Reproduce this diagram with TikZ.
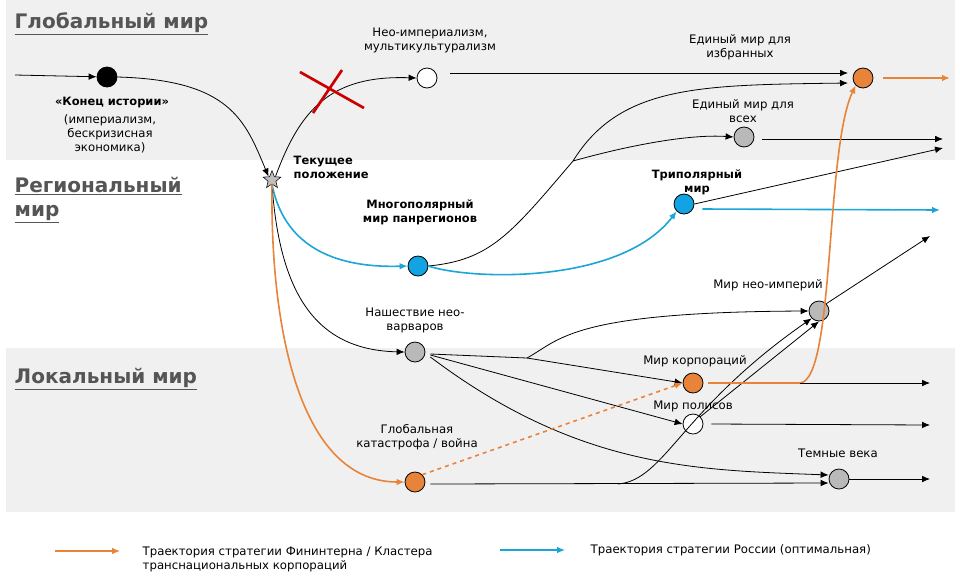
\documentclass[tikz,border=0pt]{standalone}
\usepackage{fontspec}
\setmainfont{DejaVu Sans}
\usetikzlibrary{arrows.meta,shapes.geometric}
\definecolor{org}{HTML}{E8833A}
\definecolor{cya}{HTML}{1BA6D6}
\definecolor{cyf}{HTML}{12A3E3}
\definecolor{bandc}{HTML}{F0F0F0}
\definecolor{headc}{HTML}{555555}
\begin{document}
\begin{tikzpicture}[x=0.75pt,y=-0.75pt,
  dot/.style={circle,draw=black,line width=0.6pt,minimum size=15pt,inner sep=0pt},
  lbl/.style={font=\fontsize{8.8}{10.5}\selectfont,align=center},
  blbl/.style={font=\fontsize{8.6}{10.5}\selectfont\bfseries,align=center},
  head/.style={font=\fontsize{15}{18}\selectfont\bfseries,text=headc,align=left,anchor=north west},
  arr/.style={-{Latex[length=6pt,width=5pt]},line width=0.6pt},
  oarr/.style={arr,draw=org,line width=1.2pt},
  carr/.style={arr,draw=cya,line width=1.2pt}]
\useasboundingbox (0,0) rectangle (960,583);
\fill[white] (0,0) rectangle (960,583);
\fill[bandc] (6,0) rectangle (955,160);
\fill[bandc] (6,348) rectangle (955,512);
\node[head] at (10,8) {\underline{Глобальный мир}};
\node[head] at (10,172) {\underline{Региональный}\\\underline{мир}};
\node[head] at (10,363) {\underline{Локальный мир}};
% nodes
\node[dot,fill=black] (B) at (107,77) {};
\node[star,star points=5,star point ratio=2.3,draw=black,fill=gray!50,minimum size=14pt,inner sep=0pt] (S) at (272,180) {};
\node[dot,fill=white] (N1) at (427,78) {};
\node[dot,fill=org] (E1) at (863,78) {};
\node[dot,fill=gray!55] (E2) at (744,137) {};
\node[dot,fill=cyf] (T) at (684,204) {};
\node[dot,fill=cyf] (M) at (418,266) {};
\node[dot,fill=gray!55] (H) at (415,352) {};
\node[dot,fill=org] (K) at (693,383) {};
\node[dot,fill=white] (P) at (693,424) {};
\node[dot,fill=org] (G) at (415,482) {};
\node[dot,fill=gray!55] (D) at (839,479) {};
\node[dot,fill=gray!55] (Ni) at (819,311) {};
% labels
\node[blbl] (lB) at (112,103) {«Конец истории»};
\node[lbl,anchor=north] (lB2) at (110,110) {(империализм,\\бескризисная\\экономика)};
\node[blbl,align=left,anchor=west] (lS) at (289,167) {Текущее\\положение};
\node[lbl] (lN1) at (430,40) {Нео-империализм,\\мультикультурализм};
\node[lbl] (lE1) at (740,47) {Единый  мир для\\избранных};
\node[lbl] (lE2) at (743,111) {Единый  мир для\\всех};
\node[blbl] (lT) at (697,182) {Триполярный\\мир};
\node[blbl] (lM) at (420,212) {Многополярный\\мир панрегионов};
\node[lbl] (lH) at (415,320) {Нашествие нео-\\варваров};
\node[lbl] (lK) at (695,361) {Мир корпораций};
\node[lbl] (lP) at (693,406) {Мир полисов};
\node[lbl] (lG) at (417,437) {Глобальная\\катастрофа / война};
\node[lbl] (lD) at (838,453) {Темные века};
\node[lbl] (lNi) at (768,285) {Мир нео-империй};
% coordinates
\coordinate (in0) at (15,75);
\coordinate (n1o) at (450,73);
\coordinate (e1a) at (848,73);
\coordinate (e1b) at (848,83);
\coordinate (j1) at (573,161);
\coordinate (j2) at (527,358);
\coordinate (j3) at (618,484);
\coordinate (j4) at (800,383);
\coordinate (oE1) at (950,78);
\coordinate (oE2) at (943,139);
\coordinate (oT) at (943,148);
\coordinate (oTc) at (940,210);
\coordinate (oNi) at (930,236);
\coordinate (oK) at (930,383);
\coordinate (oP) at (930,425);
\coordinate (oD) at (930,479);
% edges
\draw[arr] (in0) -- (B);
\draw[arr] (B.east) .. controls (230,80) and (245,120) .. (S.north west);
\draw[arr] (S.north east) .. controls (300,110) and (330,75) .. (N1.west);
\draw[draw=red!80!black,line width=2pt] (300,72) -- (364,108) (342,70) -- (313,113);
\draw[arr] (n1o) -- (e1a);
\draw[arr] (M.east) .. controls (490,260) and (510,235) .. (j1) .. controls (620,85) and (700,85) .. (e1b);
\draw[arr] (j1) .. controls (630,145) and (690,134) .. (E2.west);
\draw[arr] (E2.east) ++(8,2) -- (oE2);
\draw[arr] (T.east) -- (oT);
\draw[carr] (T.east) ++(8,5) -- (oTc);
\draw[carr] (S.south) .. controls (285,250) and (340,268) .. (M.west);
\draw[carr] (M.east) .. controls (470,280) and (620,285) .. (T.south west);
\draw[oarr] (E1.east) ++(10,0) -- (oE1);
\draw[arr] (S.south) .. controls (280,300) and (320,350) .. (H.west);
\draw[oarr] (S.south) .. controls (270,330) and (300,482) .. (G.west);
\draw[line width=0.6pt] (H.east) ++(5,2) -- (j2);
\draw[arr] (j2) .. controls (560,340) and (570,312) .. (Ni.west);
\draw[arr] (j2) -- (K.west);
\draw[arr] (H.east) ++(5,3) -- (P.west);
\draw[arr] (H.east) ++(5,5) .. controls (580,470) and (700,470) .. ([yshift=3pt]D.west);
\draw[org,line width=1.2pt,dashed,-{Latex[length=6pt,width=5pt]}] (G.north east) -- (K.west);
\draw[arr] (G.east) ++(5,2) -- ([yshift=-3pt]D.west);
\draw[arr] (j3) .. controls (665,480) and (680,410) .. (Ni.south west);
\draw[arr] (P.north east) -- (Ni.south);
\draw[org,line width=1.2pt] (K.east) ++(5,0) -- (j4);
\draw[oarr] (j4) .. controls (835,380) and (825,150) .. (E1.south west);
\draw[arr] (j4) -- (oK);
\draw[arr] (P.east) ++(8,0) -- (oP);
\draw[arr] (D.east) -- (oD);
\draw[arr] (Ni.north east) -- (oNi);
% legend
\coordinate (la1) at (55,551); \coordinate (la2) at (120,551);
\coordinate (lc1) at (500,550); \coordinate (lc2) at (565,550);
\draw[oarr,line width=0.9pt] (la1) -- (la2);
\draw[carr,line width=0.9pt] (lc1) -- (lc2);
\node[lbl,align=left,anchor=north west] (leg1) at (138,542) {Траектория стратегии Фининтерна  / Кластера\\транснациональных  корпораций};
\node[lbl,align=left,anchor=west] (leg2) at (586,550) {Траектория стратегии России (оптимальная)};
\end{tikzpicture}
\end{document}
